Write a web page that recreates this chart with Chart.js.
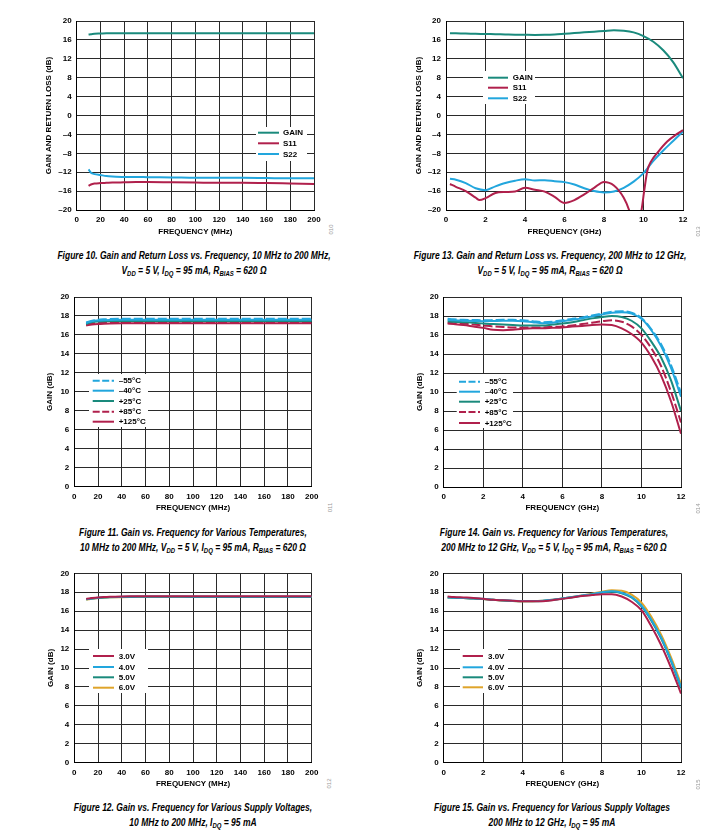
<!DOCTYPE html>
<html><head><meta charset="utf-8">
<script src="https://cdn.jsdelivr.net/npm/chart.js@4/dist/chart.umd.min.js"></script>
<style>
html,body{margin:0;padding:0;background:#fff;}
body{width:715px;height:831px;position:relative;overflow:hidden;font-family:"Liberation Sans",Arial,sans-serif;}
canvas{position:absolute;}
.cap{position:absolute;width:420px;text-align:center;font-style:italic;font-weight:bold;font-size:10px;font-family:"Liberation Sans",Arial,sans-serif;line-height:15px;color:#000;white-space:nowrap;transform:scaleX(0.85);transform-origin:center top;}
.cap sub{font-size:7px;vertical-align:-2px;line-height:0;}
.fn{position:absolute;font-size:6px;font-family:"Liberation Sans",sans-serif;color:#999;transform:rotate(-90deg);transform-origin:center;width:14px;height:7px;line-height:7px;text-align:center;}
</style></head><body>
<canvas id="c10"></canvas><canvas id="c13"></canvas>
<canvas id="c11"></canvas><canvas id="c14"></canvas>
<canvas id="c12"></canvas><canvas id="c15"></canvas>

<div class="cap" style="left:-16px;top:248px">Figure 10. Gain and Return Loss vs. Frequency, 10 MHz to 200 MHz,<br>V<sub>DD</sub> = 5 V, I<sub>DQ</sub> = 95 mA, R<sub>BIAS</sub> = 620 Ω</div>
<div class="cap" style="left:340px;top:248px">Figure 13. Gain and Return Loss vs. Frequency, 200 MHz to 12 GHz,<br>V<sub>DD</sub> = 5 V, I<sub>DQ</sub> = 95 mA, R<sub>BIAS</sub> = 620 Ω</div>
<div class="cap" style="left:-17px;top:525px">Figure 11. Gain vs. Frequency for Various Temperatures,<br>10 MHz to 200 MHz, V<sub>DD</sub> = 5 V, I<sub>DQ</sub> = 95 mA, R<sub>BIAS</sub> = 620 Ω</div>
<div class="cap" style="left:344px;top:525px">Figure 14. Gain vs. Frequency for Various Temperatures,<br>200 MHz to 12 GHz, V<sub>DD</sub> = 5 V, I<sub>DQ</sub> = 95 mA, R<sub>BIAS</sub> = 620 Ω</div>
<div class="cap" style="left:-17px;top:800px">Figure 12. Gain vs. Frequency for Various Supply Voltages,<br>10 MHz to 200 MHz, I<sub>DQ</sub> = 95 mA</div>
<div class="cap" style="left:342px;top:800px">Figure 15. Gain vs. Frequency for Various Supply Voltages<br>200 MHz to 12 GHz, I<sub>DQ</sub> = 95 mA</div>

<div class="fn" style="left:324px;top:226px">010</div>
<div class="fn" style="left:691px;top:228px">013</div>
<div class="fn" style="left:323px;top:504px">011</div>
<div class="fn" style="left:691px;top:505px">014</div>
<div class="fn" style="left:322px;top:780px">012</div>
<div class="fn" style="left:691px;top:781px">015</div>

<script>
// ---------------- DATA ----------------
const mhzFreq = [10, 12, 15, 20, 25, 30, 40, 50, 60, 80, 100, 120, 140, 160, 180, 200];
const ghzFreq = [0.2, 0.5, 1, 1.5, 2, 2.5, 3, 3.5, 4, 4.5, 5, 5.5, 6, 6.5, 7, 7.5, 8, 8.5, 9, 9.5, 10, 10.5, 11, 11.5, 12];

const mhzTicks = { min: 0, max: 200, step: 20 };
const ghzTicks = { min: 0, max: 12, step: 2 };
const rlTicks = { min: -20, max: 20, step: 4 };
const gainTicks = { min: 0, max: 20, step: 2 };

// Figure 10
const fig10Labels = ['GAIN', 'S11', 'S22'];
const fig10Gain = [17.15, 17.2, 17.3, 17.35, 17.4, 17.4, 17.42, 17.42, 17.42, 17.42, 17.42, 17.42, 17.42, 17.42, 17.42, 17.42];
const fig10S11 = [-14.9, -14.6, -14.4, -14.3, -14.25, -14.2, -14.15, -14.1, -14.1, -14.15, -14.2, -14.25, -14.25, -14.3, -14.4, -14.5];
const fig10S22 = [-11.4, -12.1, -12.4, -12.6, -12.8, -12.9, -13.0, -13.0, -13.05, -13.1, -13.2, -13.2, -13.2, -13.25, -13.3, -13.3];

// Figure 13
const fig13Labels = ['GAIN', 'S11', 'S22'];
const fig13Gain = [17.43, 17.4, 17.35, 17.3, 17.25, 17.2, 17.15, 17.1, 17.07, 17.05, 17.07, 17.15, 17.3, 17.45, 17.6, 17.75, 17.9, 18.05, 17.95, 17.6, 16.8, 15.6, 13.8, 11.3, 7.9];
const fig13S11Freq = [0.2, 0.5, 1, 1.5, 1.7, 2, 2.5, 3, 3.5, 4, 4.5, 5, 5.5, 6, 6.5, 7, 7.5, 8, 8.5, 9, 9.27, 9.5, 9.7, 9.9, 10.05, 10.2, 10.4, 10.7, 11.2, 11.7, 12];
const fig13S11 = [-14.5, -15.1, -16.0, -17.4, -17.9, -17.5, -16.4, -16.2, -16.1, -15.3, -15.7, -16.1, -17.2, -18.5, -17.9, -16.7, -15.3, -14.05, -14.8, -17.4, -20, -23.5, -24, -20, -15.5, -11.6, -9.6, -7.9, -5.5, -3.9, -3.1];
const fig13S22 = [-13.4, -13.6, -14.3, -15.4, -15.8, -15.0, -14.3, -13.8, -13.5, -13.75, -13.7, -13.9, -14.1, -14.6, -15.4, -16.0, -16.3, -16.1, -15.3, -14.0, -12.2, -9.6, -7.4, -5.4, -3.4];

// Figure 11
const tempLabels = ['\u201355°C', '\u201340°C', '+25°C', '+85°C', '+125°C'];
const fig11M55 = [17.3, 17.4, 17.5, 17.6, 17.65, 17.68, 17.7, 17.7, 17.7, 17.7, 17.7, 17.7, 17.7, 17.7, 17.7, 17.7];
const fig11M40 = [17.25, 17.35, 17.45, 17.52, 17.56, 17.58, 17.6, 17.6, 17.6, 17.6, 17.6, 17.6, 17.6, 17.6, 17.6, 17.6];
const fig11P25 = [17.15, 17.25, 17.35, 17.42, 17.45, 17.47, 17.48, 17.48, 17.48, 17.48, 17.48, 17.48, 17.48, 17.48, 17.48, 17.48];
const fig11P85 = [17.05, 17.12, 17.2, 17.27, 17.3, 17.32, 17.33, 17.33, 17.33, 17.33, 17.33, 17.33, 17.33, 17.33, 17.33, 17.33];
const fig11P125 = [17.0, 17.05, 17.1, 17.15, 17.18, 17.2, 17.22, 17.22, 17.22, 17.22, 17.22, 17.22, 17.22, 17.22, 17.22, 17.22];

// Figure 14
const fig14M55 = [17.7, 17.65, 17.6, 17.58, 17.55, 17.57, 17.6, 17.6, 17.55, 17.45, 17.35, 17.4, 17.55, 17.7, 17.85, 18.05, 18.25, 18.45, 18.5, 18.35, 17.8, 16.6, 15.0, 12.8, 9.9];
const fig14M40 = [17.6, 17.55, 17.5, 17.48, 17.45, 17.47, 17.5, 17.5, 17.45, 17.35, 17.25, 17.3, 17.45, 17.6, 17.75, 17.95, 18.15, 18.35, 18.4, 18.25, 17.7, 16.5, 14.8, 12.5, 9.5];
const fig14P25 = [17.45, 17.4, 17.35, 17.3, 17.2, 17.15, 17.1, 17.05, 17.0, 17.0, 17.0, 17.1, 17.2, 17.35, 17.55, 17.75, 17.9, 18.0, 17.9, 17.5, 16.7, 15.3, 13.6, 11.2, 8.0];
const fig14P85 = [17.3, 17.25, 17.2, 17.1, 17.0, 16.9, 16.85, 16.8, 16.8, 16.8, 16.8, 16.85, 16.9, 17.0, 17.15, 17.3, 17.45, 17.55, 17.4, 16.9, 16.0, 14.6, 12.7, 10.0, 6.8];
const fig14P125 = [17.2, 17.15, 17.05, 16.9, 16.75, 16.55, 16.5, 16.55, 16.65, 16.7, 16.7, 16.75, 16.8, 16.9, 16.95, 17.05, 17.1, 17.05, 16.7, 16.1, 15.2, 13.7, 11.7, 9.0, 5.6];

// Figure 12
const voltLabels = ['3.0V', '4.0V', '5.0V', '6.0V'];
const fig12V3 = [17.3, 17.33, 17.38, 17.45, 17.5, 17.53, 17.56, 17.57, 17.58, 17.58, 17.57, 17.57, 17.57, 17.57, 17.57, 17.57];
const fig12V4 = [17.27, 17.3, 17.35, 17.42, 17.47, 17.5, 17.53, 17.54, 17.55, 17.55, 17.54, 17.54, 17.54, 17.54, 17.54, 17.54];
const fig12V5 = [17.25, 17.28, 17.33, 17.4, 17.45, 17.48, 17.5, 17.51, 17.52, 17.52, 17.51, 17.51, 17.51, 17.51, 17.51, 17.51];
const fig12V6 = [17.23, 17.26, 17.31, 17.38, 17.43, 17.46, 17.48, 17.49, 17.5, 17.5, 17.49, 17.49, 17.49, 17.49, 17.49, 17.49];

// Figure 15
const fig15V3 = [17.55, 17.5, 17.45, 17.4, 17.3, 17.2, 17.15, 17.1, 17.05, 17.05, 17.05, 17.15, 17.3, 17.45, 17.6, 17.7, 17.8, 17.8, 17.55, 17.0, 16.1, 14.4, 12.4, 10.0, 7.3];
const fig15V4 = [17.45, 17.42, 17.4, 17.35, 17.3, 17.22, 17.15, 17.1, 17.08, 17.08, 17.1, 17.2, 17.35, 17.5, 17.65, 17.8, 18.0, 18.1, 17.95, 17.5, 16.6, 15.1, 13.2, 10.8, 8.0];
const fig15V5 = [17.45, 17.42, 17.38, 17.33, 17.28, 17.2, 17.13, 17.08, 17.06, 17.06, 17.08, 17.18, 17.33, 17.48, 17.62, 17.77, 17.95, 18.05, 17.9, 17.45, 16.5, 15.0, 13.1, 10.7, 7.85];
const fig15V6 = [17.45, 17.42, 17.38, 17.33, 17.28, 17.2, 17.13, 17.08, 17.06, 17.06, 17.1, 17.2, 17.35, 17.5, 17.67, 17.85, 18.05, 18.2, 18.15, 17.75, 16.9, 15.4, 13.5, 11.1, 8.3];

// ---------------- STYLE ----------------
const TEAL = '#1a8a7c', CRIMSON = '#b0204c', BLUE = '#22a6dd', GOLD = '#dfa42a';
const FONT = '"Liberation Sans", Arial, sans-serif';
Chart.defaults.font.family = FONT;
Chart.defaults.color = '#000';

const pts = (xs, ys) => xs.map((x, i) => ({ x: x, y: ys[i] }));
const ds = (label, xs, ys, color, dash) => ({
  label: label, data: pts(xs, ys), borderColor: color, backgroundColor: color,
  borderWidth: 2, borderDash: dash || [], pointRadius: 0, fill: false,
  cubicInterpolationMode: 'monotone'
});

const legendBoxPlugin = {
  id: 'boxLegend',
  beforeDatasetsDraw(chart, args, o) {
    if (!o || !o.box) return;
    const c = chart.ctx, b = o.box;
    c.save(); c.fillStyle = '#fff'; c.fillRect(b[0], b[1], b[2] - b[0], b[3] - b[1]); c.restore();
  },
  afterDatasetsDraw(chart, args, o) {
    if (!o || !o.box) return;
    const c = chart.ctx;
    c.save();
    chart.data.datasets.forEach((d, i) => {
      const y = o.rows[i];
      c.strokeStyle = d.borderColor; c.lineWidth = 2; c.setLineDash(d.borderDash && d.borderDash.length ? [7, 2.5] : []);
      c.beginPath(); c.moveTo(o.line[0], y); c.lineTo(o.line[1], y); c.stroke();
      c.setLineDash([]);
      c.fillStyle = '#000'; c.font = 'bold 8px ' + FONT; c.textBaseline = 'middle'; c.textAlign = 'left';
      c.fillText(d.label, o.textX, y + 0.5);
    });
    c.restore();
  }
};

function axis(t, title, isX, fitVal) {
  return {
    type: 'linear', min: t.min, max: t.max,
    ticks: { stepSize: t.step, font: { size: 8, weight: 'bold' }, color: '#000', padding: 5,
      maxRotation: 0, autoSkip: false, callback: v => String(v).replace('-', '\u2013') },
    grid: { color: '#2a2a2a', lineWidth: 1, drawTicks: false },
    border: { color: '#000', width: 1 },
    title: { display: true, text: title, font: { size: 8, weight: 'bold' }, color: '#000', padding: 0 },
    afterFit: s => { if (isX) s.height = fitVal; else s.width = fitVal; }
  };
}

// geometry in page px: x0,y0 canvas origin; w,h canvas size; L,T,R,B plot area
function makeChart(id, g, xT, xTitle, yT, yTitle, datasets, lg) {
  const cv = document.getElementById(id);
  cv.width = g.w; cv.height = g.h;
  cv.style.left = g.x0 + 'px'; cv.style.top = g.y0 + 'px';
  const local = {
    box: [lg.box[0] - g.x0, lg.box[1] - g.y0, lg.box[2] - g.x0, lg.box[3] - g.y0],
    line: [lg.line[0] - g.x0, lg.line[1] - g.x0],
    textX: lg.textX - g.x0,
    rows: lg.rows.map(r => r - g.y0)
  };
  new Chart(cv, {
    type: 'line',
    data: { datasets: datasets },
    options: {
      responsive: false, animation: false, devicePixelRatio: 1,
      layout: { padding: { top: g.T - g.y0, left: 0, right: g.x0 + g.w - g.R, bottom: 0 } },
      scales: {
        x: axis(xT, xTitle, true, g.y0 + g.h - g.B),
        y: axis(yT, yTitle, false, g.L - g.x0)
      },
      plugins: { legend: { display: false }, tooltip: { enabled: false }, boxLegend: local }
    },
    plugins: [legendBoxPlugin]
  });
}

const G10 = { x0: 44, y0: 0, w: 282, h: 237, L: 76.7, T: 21, R: 314, B: 210 };
const G13 = { x0: 414, y0: 0, w: 281, h: 237, L: 446, T: 21, R: 683, B: 210 };
const G11 = { x0: 45, y0: 280, w: 279, h: 233, L: 74.3, T: 297, R: 311.7, B: 486.7 };
const G14 = { x0: 415, y0: 280, w: 278, h: 233, L: 443.7, T: 297, R: 681, B: 487 };
const G12 = { x0: 46, y0: 556, w: 278, h: 233, L: 74.3, T: 573.3, R: 311.7, B: 762.7 };
const G15 = { x0: 415, y0: 556, w: 278, h: 233, L: 443.7, T: 573.3, R: 681, B: 762.7 };

makeChart('c10', G10, mhzTicks, 'FREQUENCY (MHz)', rlTicks, 'GAIN AND RETURN LOSS (dB)', [
  ds(fig10Labels[0], mhzFreq, fig10Gain, TEAL),
  ds(fig10Labels[1], mhzFreq, fig10S11, CRIMSON),
  ds(fig10Labels[2], mhzFreq, fig10S22, BLUE)
], { box: [256, 127, 307, 161], line: [258, 279], textX: 283, rows: [132.7, 143.3, 154] });

makeChart('c13', G13, ghzTicks, 'FREQUENCY (GHz)', rlTicks, 'GAIN AND RETURN LOSS (dB)', [
  ds(fig13Labels[0], ghzFreq, fig13Gain, TEAL),
  ds(fig13Labels[1], fig13S11Freq, fig13S11, CRIMSON),
  ds(fig13Labels[2], ghzFreq, fig13S22, BLUE)
], { box: [483, 71, 535, 104], line: [488, 508], textX: 512.7, rows: [77.7, 87.7, 98.3] });

makeChart('c11', G11, mhzTicks, 'FREQUENCY (MHz)', gainTicks, 'GAIN (dB)', [
  ds(tempLabels[0], mhzFreq, fig11M55, BLUE, [9, 3]),
  ds(tempLabels[1], mhzFreq, fig11M40, BLUE),
  ds(tempLabels[2], mhzFreq, fig11P25, TEAL),
  ds(tempLabels[3], mhzFreq, fig11P85, CRIMSON, [9, 3]),
  ds(tempLabels[4], mhzFreq, fig11P125, CRIMSON)
], { box: [89, 374, 148, 427], line: [92.7, 114], textX: 118.7, rows: [380.7, 390.7, 401, 411.7, 421.7] });

makeChart('c14', G14, ghzTicks, 'FREQUENCY (GHz)', gainTicks, 'GAIN (dB)', [
  ds(tempLabels[0], ghzFreq, fig14M55, BLUE, [9, 3]),
  ds(tempLabels[1], ghzFreq, fig14M40, BLUE),
  ds(tempLabels[2], ghzFreq, fig14P25, TEAL),
  ds(tempLabels[3], ghzFreq, fig14P85, CRIMSON, [9, 3]),
  ds(tempLabels[4], ghzFreq, fig14P125, CRIMSON)
], { box: [456.7, 374, 513, 428], line: [459, 480], textX: 484.7, rows: [381.7, 391.7, 401.7, 412, 423] });

makeChart('c12', G12, mhzTicks, 'FREQUENCY (MHz)', gainTicks, 'GAIN (dB)', [
  ds(voltLabels[0], mhzFreq, fig12V3, CRIMSON),
  ds(voltLabels[1], mhzFreq, fig12V4, BLUE),
  ds(voltLabels[2], mhzFreq, fig12V5, TEAL),
  ds(voltLabels[3], mhzFreq, fig12V6, GOLD)
], { box: [89, 649, 148, 693], line: [93, 114], textX: 118.7, rows: [656, 667, 677.3, 687.7] });

makeChart('c15', G15, ghzTicks, 'FREQUENCY (GHz)', gainTicks, 'GAIN (dB)', [
  ds(voltLabels[0], ghzFreq, fig15V3, CRIMSON),
  ds(voltLabels[1], ghzFreq, fig15V4, BLUE),
  ds(voltLabels[2], ghzFreq, fig15V5, TEAL),
  ds(voltLabels[3], ghzFreq, fig15V6, GOLD)
], { box: [460, 649, 508, 693], line: [462.7, 483], textX: 488, rows: [656, 667.3, 677.3, 687.3] });
</script>
</body></html>
